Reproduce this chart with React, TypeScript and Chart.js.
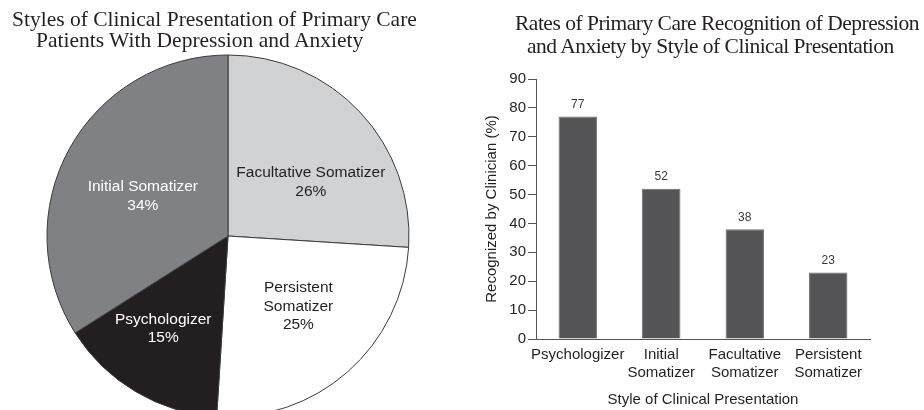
import React, { useEffect, useRef } from "react";
import { Chart, registerables } from "chart.js";

Chart.register(...registerables);

// ---- Data ----
const pieCategories = ["Facultative Somatizer", "Persistent Somatizer", "Psychologizer", "Initial Somatizer"];
const pieLabelLines = [["Facultative Somatizer"], ["Persistent", "Somatizer"], ["Psychologizer"], ["Initial Somatizer"]];
const pieValues = [26, 25, 15, 34];

const barCategories = [["Psychologizer"], ["Initial", "Somatizer"], ["Facultative", "Somatizer"], ["Persistent", "Somatizer"]];
const barValues = [77, 52, 38, 23];
const yMin = 0;
const yMax = 90;
const yStep = 10;

const pieTitleLines = ["Styles of Clinical Presentation of Primary Care", "Patients With Depression and Anxiety"];
const barTitleLines = ["Rates of Primary Care Recognition of Depression", "and Anxiety by Style of Clinical Presentation"];
const yAxisTitle = "Recognized by Clinician (%)";
const xAxisTitle = "Style of Clinical Presentation";

// ---- Styles ----
const SANS = "'Liberation Sans', Arial, Helvetica, sans-serif";
const SERIF = "'Liberation Serif', 'Times New Roman', serif";
const INK = "#231f20";
const pieColors = ["#d1d2d4", "#ffffff", "#231f20", "#808184"];
const pieTextColors = [INK, INK, "#ffffff", "#ffffff"];
// [radius factor, angular fraction within slice]
const pieLabelLayout = [
  [0.545, 0.61],
  [0.55, 0.46],
  [0.625, 0.58],
  [0.52, 0.47],
];

const pieLabelPlugin = {
  id: "pieLabels",
  afterDatasetsDraw(chart: any) {
    const ctx = chart.ctx;
    const meta = chart.getDatasetMeta(0);
    meta.data.forEach((arc: any, i: number) => {
      const p = arc.getProps(["x", "y", "startAngle", "endAngle", "outerRadius"], true);
      const [rf, af] = pieLabelLayout[i];
      const a = p.startAngle + (p.endAngle - p.startAngle) * af;
      const r = p.outerRadius * rf;
      const cx = p.x + Math.cos(a) * r;
      const cy = p.y + Math.sin(a) * r;
      const lines = [...pieLabelLines[i], pieValues[i] + "%"];
      const lh = 18.5;
      ctx.save();
      ctx.font = `15.5px ${SANS}`;
      ctx.fillStyle = pieTextColors[i];
      ctx.textAlign = "center";
      ctx.textBaseline = "middle";
      lines.forEach((t, j) => ctx.fillText(t, cx, cy + (j - (lines.length - 1) / 2) * lh));
      ctx.restore();
    });
  },
};

const barValuePlugin = {
  id: "barValues",
  afterDatasetsDraw(chart: any) {
    const ctx = chart.ctx;
    const meta = chart.getDatasetMeta(0);
    ctx.save();
    ctx.font = `12px ${SANS}`;
    ctx.fillStyle = "#3a3a3a";
    ctx.textAlign = "center";
    ctx.textBaseline = "middle";
    meta.data.forEach((bar: any, i: number) => {
      ctx.fillText(String(barValues[i]), bar.x, bar.y - 12);
    });
    ctx.restore();
  },
};

export default function App() {
  const pieRef = useRef<HTMLCanvasElement | null>(null);
  const barRef = useRef<HTMLCanvasElement | null>(null);

  useEffect(() => {
    const pie = new Chart(pieRef.current as HTMLCanvasElement, {
      type: "pie",
      data: {
        labels: pieCategories,
        datasets: [
          {
            data: pieValues,
            backgroundColor: pieColors,
            borderColor: "#3b3b3b",
            borderWidth: 1,
          },
        ],
      },
      options: {
        responsive: false,
        animation: false,
        radius: 181,
        layout: { padding: { left: 47, right: 47, top: 55, bottom: 23 } },
        plugins: { legend: { display: false }, tooltip: { enabled: false }, title: { display: false } },
      } as any,
      plugins: [pieLabelPlugin],
    });

    const bar = new Chart(barRef.current as HTMLCanvasElement, {
      type: "bar",
      data: {
        labels: barCategories as any,
        datasets: [
          {
            data: barValues,
            backgroundColor: "#545456",
            borderColor: "#6a6a6c",
            borderWidth: 1,
            categoryPercentage: 1,
            barPercentage: 0.46,
          },
        ],
      },
      options: {
        responsive: false,
        animation: false,
        layout: { padding: { top: 79, right: 54, left: 0, bottom: 0 } },
        plugins: { legend: { display: false }, tooltip: { enabled: false }, title: { display: false } },
        scales: {
          x: {
            grid: { display: false, drawTicks: false },
            border: { display: true, color: "#555555", width: 1 },
            ticks: { font: { size: 15, family: SANS }, color: INK, padding: 7, maxRotation: 0, autoSkip: false },
            title: {
              display: true,
              text: xAxisTitle,
              font: { size: 15, family: SANS },
              color: INK,
              padding: { top: 0, bottom: 1 },
            },
            afterFit: (s: any) => {
              s.height = 71;
            },
          },
          y: {
            min: yMin,
            max: yMax,
            ticks: { stepSize: yStep, font: { size: 15, family: SANS }, color: INK, padding: 2 },
            grid: { display: true, drawOnChartArea: false, drawTicks: true, tickLength: 8, color: "#555555" },
            border: { display: true, color: "#555555", width: 1 },
            title: {
              display: true,
              text: yAxisTitle,
              font: { size: 15, family: SANS },
              color: INK,
              padding: { top: 13, bottom: 0 },
            },
            afterFit: (s: any) => {
              s.width = 66;
            },
          },
        },
      } as any,
      plugins: [barValuePlugin],
    });

    return () => {
      pie.destroy();
      bar.destroy();
    };
  }, []);

  const titleStyle: React.CSSProperties = {
    position: "absolute",
    fontFamily: SERIF,
    fontSize: "21.5px",
    lineHeight: "21.5px",
    color: INK,
    whiteSpace: "nowrap",
    margin: 0,
  };
  const rightTitleStyle: React.CSSProperties = { ...titleStyle, letterSpacing: "-0.5px" };

  return (
    <div
      style={{
        position: "absolute",
        left: 0,
        top: 0,
        width: 924,
        height: 410,
        overflow: "hidden",
        background: "#ffffff",
      }}
    >
      <canvas ref={pieRef} width={456} height={440} style={{ position: "absolute", left: 0, top: 0 }} />
      <canvas ref={barRef} width={454} height={410} style={{ position: "absolute", left: 470, top: 0 }} />
      <div style={{ ...titleStyle, left: 12, top: 9 }}>{pieTitleLines[0]}</div>
      <div style={{ ...titleStyle, left: 36, top: 30 }}>{pieTitleLines[1]}</div>
      <div style={{ ...rightTitleStyle, left: 515, top: 13 }}>{barTitleLines[0]}</div>
      <div style={{ ...rightTitleStyle, left: 527, top: 36 }}>{barTitleLines[1]}</div>
    </div>
  );
}
